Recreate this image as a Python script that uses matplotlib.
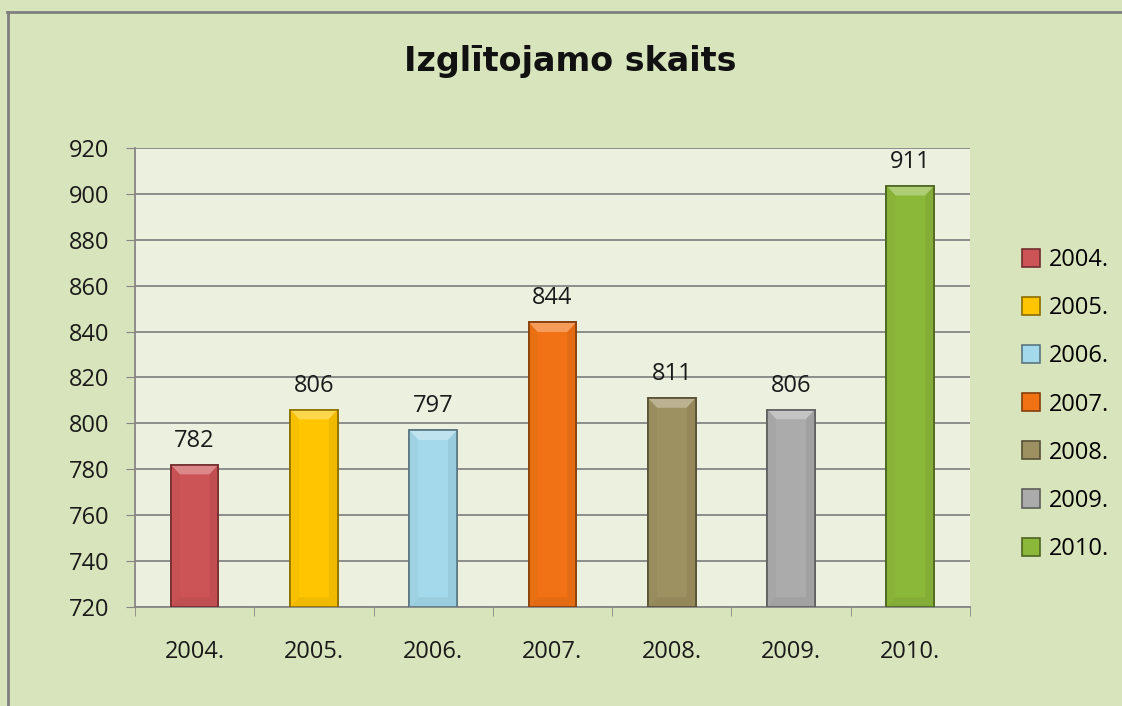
import matplotlib.pyplot as plt
import matplotlib.colors as mcolors
from matplotlib.patches import Patch, Polygon
from matplotlib.lines import Line2D

years = ['2004.', '2005.', '2006.', '2007.', '2008.', '2009.', '2010.']
bar_heights = [782, 806, 797, 844, 811, 806, 903.5]
bar_labels = ['782', '806', '797', '844', '811', '806', '911']
colors = ['#cd5456', '#ffc600', '#a3d9ea', '#f07214', '#9d9161', '#ababab', '#8cb83a']
y_ticks = [720, 740, 760, 780, 800, 820, 840, 860, 880, 900, 920]

plt.rcParams['font.family'] = ['Open Sans', 'DejaVu Sans']


def shade(col, f):
    rgb = mcolors.to_rgb(col)
    if f > 0:
        return tuple(min(1, c + (1 - c) * f) for c in rgb)
    return tuple(c * (1 + f) for c in rgb)


fig = plt.figure(figsize=(11.22, 7.06), dpi=100, facecolor='#d8e4bc')
ax = fig.add_axes([0.1203, 0.1402, 0.7442, 0.6502])
ax.set_facecolor('#ebf1de')

x = range(len(years))
edges = [shade(c, -0.45) for c in colors]
bars = ax.bar(x, [h - 720 for h in bar_heights], bottom=720, width=0.4,
              color=colors, edgecolor=edges, linewidth=1.2, zorder=3)

# bevel look: lighter top, slightly darker sides and bottom
dx, dy = 0.075, 4.2
for b, col in zip(bars, colors):
    x0, w = b.get_x(), b.get_width()
    y0, y1 = b.get_y(), b.get_y() + b.get_height()
    x1 = x0 + w
    faces = [
        ([(x0, y1), (x1, y1), (x1 - dx, y1 - dy), (x0 + dx, y1 - dy)], shade(col, 0.3)),
        ([(x0, y0), (x1, y0), (x1 - dx, y0 + dy), (x0 + dx, y0 + dy)], shade(col, -0.06)),
        ([(x0, y0), (x0 + dx, y0 + dy), (x0 + dx, y1 - dy), (x0, y1)], shade(col, -0.03)),
        ([(x1, y0), (x1 - dx, y0 + dy), (x1 - dx, y1 - dy), (x1, y1)], shade(col, -0.06)),
    ]
    for pts, fc in faces:
        ax.add_patch(Polygon(pts, closed=True, facecolor=fc, edgecolor='none', zorder=4))
    ax.add_patch(Polygon([(x0, y0), (x1, y0), (x1, y1), (x0, y1)], closed=True,
                         facecolor='none', edgecolor=shade(col, -0.45), linewidth=1.2, zorder=5))

for xi, h, lab in zip(x, bar_heights, bar_labels):
    ax.annotate(lab, (xi, h), xytext=(0, 13), textcoords='offset points',
                ha='center', va='baseline', fontsize=17, color='#1a1a1a')

ax.set_xlim(-0.5, len(years) - 0.5)
ax.set_ylim(720, 920)
ax.set_yticks(y_ticks)
ax.set_yticklabels([str(v) for v in y_ticks], fontsize=17, color='#1a1a1a')
ax.set_xticks(list(x))
ax.set_xticklabels(years, fontsize=17, color='#1a1a1a')
ax.set_xticks([i + 0.5 for i in range(-1, len(years))], minor=True)
ax.tick_params(axis='x', which='major', length=0, pad=24)
ax.tick_params(axis='x', which='minor', length=6.5, color='#868686', direction='out')
ax.tick_params(axis='y', length=6.5, color='#868686', pad=12)

ax.grid(axis='y', color='#868686', linewidth=1.3, zorder=0)
ax.set_axisbelow(True)
for s in ['top', 'right']:
    ax.spines[s].set_visible(False)
for s in ['left', 'bottom']:
    ax.spines[s].set_color('#868686')
    ax.spines[s].set_linewidth(1.3)

fig.text(0.508, 0.8994, 'Izglītojamo skaits', ha='center', va='baseline',
         fontsize=24, fontweight='bold', color='#111111', family='DejaVu Sans')

handles = [Patch(facecolor=c, edgecolor=e, linewidth=1.2) for c, e in zip(colors, edges)]
fig.legend(handles, years, loc='center left', bbox_to_anchor=(0.8915, 0.427),
           frameon=False, fontsize=17, handlelength=0.8, handleheight=0.8,
           handletextpad=0.35, labelspacing=1.02)

# outer frame lines (top and left only)
fig.add_artist(Line2D([0.0065, 1], [0.983, 0.983], transform=fig.transFigure,
                      color='#7f7f7f', linewidth=2))
fig.add_artist(Line2D([0.0075, 0.0075], [0, 0.983], transform=fig.transFigure,
                      color='#7f7f7f', linewidth=2))

fig.savefig('out.png', dpi=100, facecolor=fig.get_facecolor())
